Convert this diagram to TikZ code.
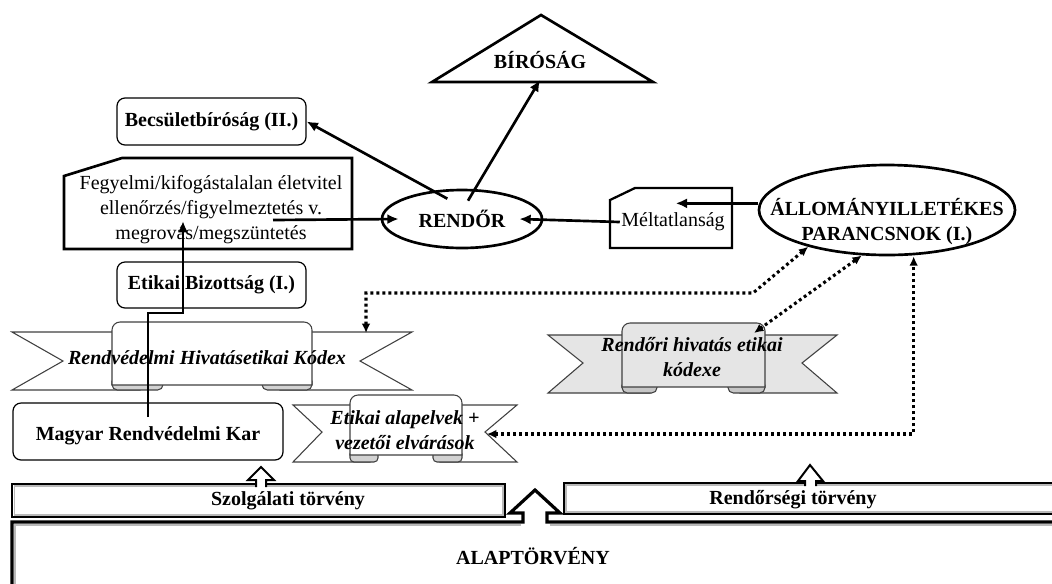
\documentclass[tikz,border=0pt]{standalone}
\usepackage{fontspec}
\setmainfont{Liberation Serif}
\usetikzlibrary{arrows.meta, positioning, shapes.geometric}
\newcommand{\dgfont}{\fontsize{15pt}{18.75pt}\selectfont}

\begin{document}
\begin{tikzpicture}[x=0.75pt, y=-0.75pt, >={Latex[length=8.5pt,width=7.5pt]},
      rbox/.style={draw, line width=0.9pt, rounded corners=6pt, font=\dgfont\bfseries,
                   align=center, inner sep=0pt},
      oval/.style={draw, ellipse, line width=2pt, inner sep=0pt},
      hd/.style={font=\dgfont\bfseries, align=center, inner sep=1pt},
      txt/.style={font=\dgfont, align=center, inner sep=1pt},
      rib/.style={font=\dgfont\bfseries\itshape, align=center, inner sep=1pt},
      band/.style={draw=black!75, line width=0.8pt},
      law/.style={draw, line width=1.5pt},
      lawin/.style={draw=gray!55, line width=1.2pt},
      arr/.style={->, line width=2pt},
      dotarr/.style={<->, line width=2.3pt, dash pattern=on 2.2pt off 2.3pt,
                     >={Latex[length=7pt,width=6.5pt]}}]

    \useasboundingbox (0,0) rectangle (1052,583);
    \clip (0,0) rectangle (1052,583);

    % === Birosag ===
    \draw[line width=2pt] (541,15) -- (653,82) -- (432,82) -- cycle;
    \node[hd] (biro) at (540,60) {BÍRÓSÁG};
    \coordinate (birob) at (540,80);

    % === Becsuletbirosag ===
    \node[rbox, minimum width=141.75pt, minimum height=35.25pt] (becs) at (211.5,121.5) {Becsületbíróság (II.)};

    % === Fegyelmi ===
    \draw[line width=2pt] (64,176) -- (122,158) -- (352,158) -- (352,249) -- (64,249) -- cycle;
    \node[txt] (fegy) at (211,210) {Fegyelmi/kifogástalalan életvitel\\ellenőrzés/figyelmeztetés v.\\megrovás/megszüntetés};
    \coordinate (fegyout) at (273,220);

    % === Rendor ===
    \node[oval, minimum width=120pt, minimum height=43.5pt, font=\dgfont\bfseries] (rendor) at (462,219) {RENDŐR};

    % === Meltatlansag ===
    \draw[line width=1.7pt] (610,200) -- (635,188) -- (732,188) -- (732,248) -- (610,248) -- cycle;
    \node[txt] (melt) at (673,222) {Méltatlanság};

    % === Parancsnok ===
    \node[oval, minimum width=192pt, minimum height=67.5pt] (parancs) at (887,210) {};
    \node[hd] (parancstxt) at ([yshift=-9pt]parancs.center) {ÁLLOMÁNYILLETÉKES\\PARANCSNOK (I.)};

    % === Etikai Bizottsag ===
    \node[rbox, minimum width=141.75pt, minimum height=34.5pt] (etbiz) at (211.5,285) {Etikai Bizottság (I.)};

    % === Rendvedelmi kodex ===
    \draw[band, fill=white] (140,332) -- (12,332) -- (63,361) -- (12,390) -- (140,390) -- cycle;
    \draw[band, fill=white] (280,332) -- (412,332) -- (360,361) -- (412,390) -- (280,390) -- cycle;
    \draw[band, fill=gray!35, rounded corners=4pt] (112,376) rectangle (163,390);
    \draw[band, fill=gray!35, rounded corners=4pt] (262,376) rectangle (312,390);
    \draw[band, fill=white] (112,385) [rounded corners=6pt] -- (112,322) -- (312,322) [sharp corners] -- (312,385) -- cycle;
    \node[rib] (rkodex) at (207,358) {Rendvédelmi Hivatásetikai Kódex};
    \coordinate (rktail) at (366,333);

    % === Rendori kodex ===
    \draw[band, fill=gray!20] (650,335) -- (548,335) -- (583,363) -- (548,393) -- (650,393) -- cycle;
    \draw[band, fill=gray!20] (740,335) -- (837,335) -- (802,363) -- (837,393) -- (740,393) -- cycle;
    \draw[band, fill=gray!45, rounded corners=4pt] (622,380) rectangle (657,393);
    \draw[band, fill=gray!45, rounded corners=4pt] (728,380) rectangle (765,393);
    \draw[band, fill=gray!20] (622,387) [rounded corners=6pt] -- (622,323) -- (765,323) [sharp corners] -- (765,387) -- cycle;
    \node[rib] (rhkodex) at (692,357) {Rendőri hivatás etikai\\kódexe};
    \coordinate (rhtop) at (754,333);

    % === Etikai alapelvek ===
    \draw[band, fill=white] (370,405) -- (293,405) -- (322,432) -- (293,462) -- (370,462) -- cycle;
    \draw[band, fill=white] (440,405) -- (517,405) -- (485,432) -- (517,462) -- (440,462) -- cycle;
    \draw[band, fill=gray!35, rounded corners=3pt] (350,450) rectangle (378,462);
    \draw[band, fill=gray!35, rounded corners=3pt] (433,450) rectangle (462,462);
    \draw[band, fill=white] (350,455) [rounded corners=6pt] -- (350,395) -- (462,395) [sharp corners] -- (462,455) -- cycle;
    \node[rib] (ealap) at (405,430) {Etikai alapelvek +\\vezetői elvárások};
    \coordinate (eanotch) at (487,434);

    % === Magyar Rendvedelmi Kar ===
    \node[rbox, minimum width=202.5pt, minimum height=42.75pt] (magyar) at (148,431.5) {};
    \node[hd] (magyartxt) at ([yshift=-3.5pt]magyar.center) {Magyar Rendvédelmi Kar};

    % === Torvenyek ===
    \draw[law] (12,484) rectangle (505,517);
    \draw[lawin] (14.5,486.2) rectangle (502.8,514.8);
    \draw[law, fill=white] (256,487) -- (256,480) -- (248,480) -- (261,467) -- (274,480) -- (266,480) -- (266,487);
    \node[hd] (szolg) at (288,501) {Szolgálati törvény};

    \draw[law] (564,483) rectangle (1070,514);
    \draw[lawin] (566.2,485.2) rectangle (1070,511.8);
    \draw[law, fill=white] (805,486) -- (805,481) -- (798,481) -- (810,465) -- (823,481) -- (816,481) -- (816,486);
    \node[hd] (rtv) at (793,500) {Rendőrségi törvény};

    \draw[lawin] (15.2,600) -- (15.2,525.2) -- (520.5,525.2);
    \draw[lawin] (549.5,525.2) -- (1070,525.2);
    \draw[law, line width=2.4pt] (12,600) -- (12,522) -- (523,522) -- (523,513) -- (510,513) -- (535,490)
        -- (560,513) -- (547,513) -- (547,522) -- (1070,522);
    \node[hd] (alap) at (533,556) {ALAPTÖRVÉNY};

    % === connectors ===
    \draw[arr] (fegyout) -- ([xshift=13.5pt]rendor.west);
    \draw[arr] ([xshift=-11pt,yshift=-7.5pt]rendor.north) -- (becs.east);
    \draw[arr] ([xshift=4.5pt,yshift=-9pt]rendor.north) -- (birob);
    \draw[arr] (melt.west) -- ([xshift=-18pt]rendor.east);
    \draw[arr] ([yshift=5pt]parancs.west) -- ++(-82,0);
    \draw[arr] ([yshift=-11pt]magyar.north) -- ++(0,-104) -- ++(35,0) -- ++(0,-92);

    \draw[dotarr] (rktail) -- ++(0,-40) -- (753,293) -- (parancs.205);
    \draw[dotarr] (parancs.241) -- (rhtop);
    \draw[dotarr] (eanotch) -| ([xshift=20pt]parancs.south);

    \end{tikzpicture}
\end{document}
